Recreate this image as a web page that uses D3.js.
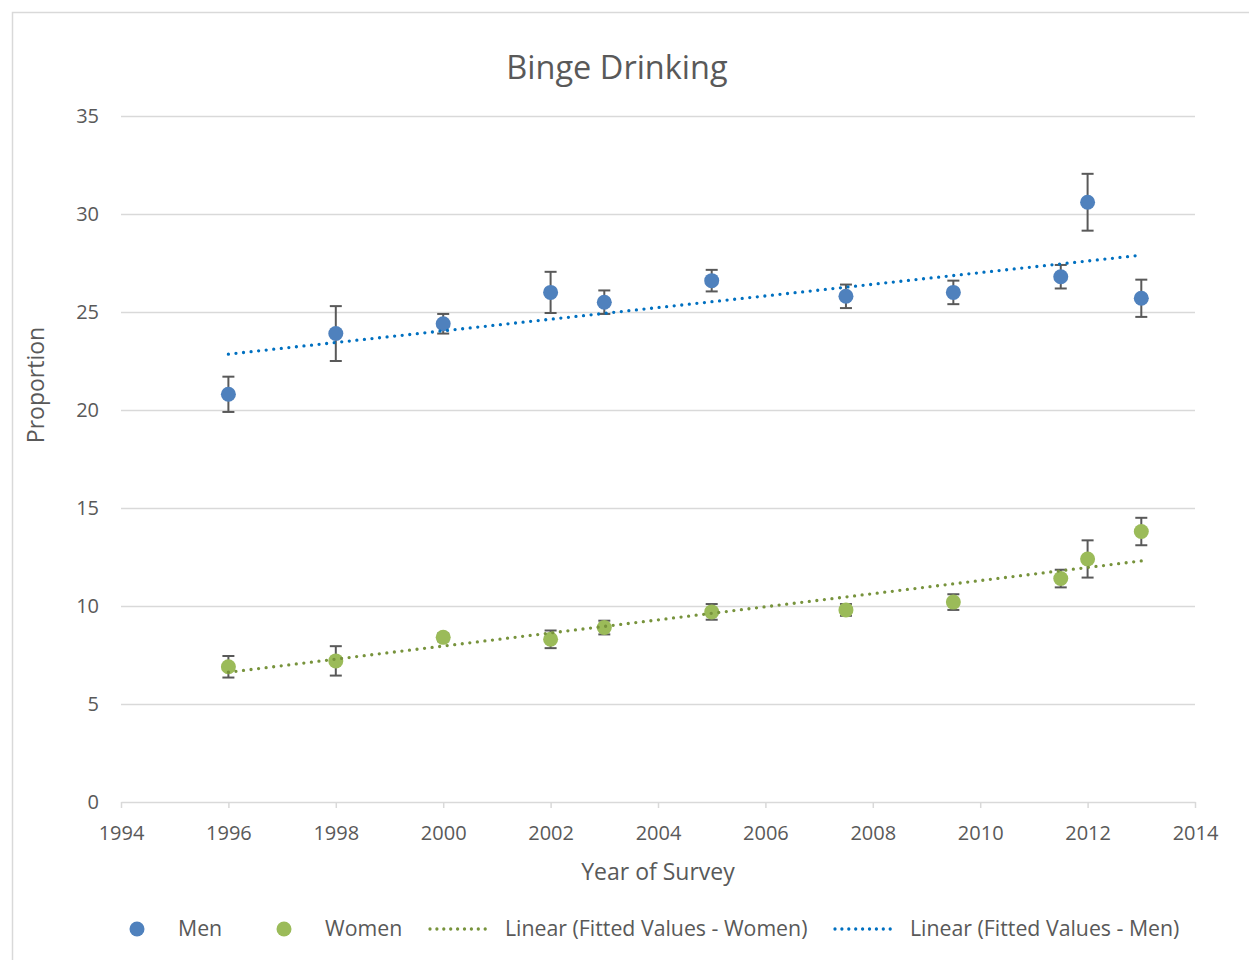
<!DOCTYPE html>
<html>
<head>
<meta charset="utf-8">
<script src="https://cdn.jsdelivr.net/npm/d3@7"></script>
<style>
  html, body { margin: 0; padding: 0; background: #ffffff; }
  svg { display: block; font-family: "Open Sans", "DejaVu Sans", sans-serif; }
</style>
</head>
<body>
<svg id="chart" width="1249" height="960"></svg>
<script>
// Survey years (2007.5 etc. are mid-year survey points)
const years = [1996, 1998, 2000, 2002, 2003, 2005, 2007.5, 2009.5, 2011.5, 2012, 2013];

// Binge drinking proportion (%) with error bar half-widths
const menValues   = [20.8, 23.9, 24.4, 26.0, 25.5, 26.6, 25.8, 26.0, 26.8, 30.6, 25.7];
const menErrors   = [0.9, 1.4, 0.5, 1.05, 0.6, 0.55, 0.6, 0.6, 0.6, 1.45, 0.95];
const womenValues = [6.9, 7.2, 8.4, 8.3, 8.9, 9.7, 9.8, 10.2, 11.4, 12.4, 13.8];
const womenErrors = [0.55, 0.75, 0.2, 0.45, 0.35, 0.4, 0.3, 0.4, 0.45, 0.95, 0.7];

// Linear trend lines of the fitted values (start and end of each line)
const fitYears      = [1996, 2013];
const menFitted     = [22.85, 27.9];
const womenFitted   = [6.62, 12.3];

// Axis ticks
const xTicks = [1994, 1996, 1998, 2000, 2002, 2004, 2006, 2008, 2010, 2012, 2014];
const yTicks = [0, 5, 10, 15, 20, 25, 30, 35];

const legendLabels = ["Men", "Women", "Linear (Fitted Values - Women)", "Linear (Fitted Values - Men)"];

const colors = {
  men: "#4f81bd",
  women: "#9bbb59",
  menLine: "#0070c0",
  womenLine: "#77933c",
  err: "#595959",
  grid: "#d9d9d9",
  text: "#595959"
};

const svg = d3.select("#chart");

// chart frame
svg.append("rect")
  .attr("x", 12.5).attr("y", 12.5)
  .attr("width", 1260).attr("height", 980)
  .attr("fill", "#ffffff")
  .attr("stroke", "#d9d9d9")
  .attr("stroke-width", 1.5);

const plot = { left: 121, right: 1195, top: 116, bottom: 802 };

const x = d3.scaleLinear().domain([1994, 2014]).range([plot.left, plot.right]);
const y = d3.scaleLinear().domain([0, 35]).range([plot.bottom, plot.top]);

// horizontal gridlines
const yAxis = d3.axisLeft(y)
  .tickValues(yTicks)
  .tickSize(-(plot.right - plot.left))
  .tickPadding(22);

const gy = svg.append("g")
  .attr("transform", `translate(${plot.left},0)`)
  .call(yAxis);
gy.select(".domain").remove();
gy.selectAll(".tick line")
  .attr("stroke-width", 1.5)
  .attr("stroke", d => d === 0 ? "none" : colors.grid);
gy.selectAll(".tick text")
  .attr("fill", colors.text)
  .style("font-size", "20px")
  .attr("font-family", "Open Sans");

// bottom axis with outward ticks
const xAxis = d3.axisBottom(x)
  .tickValues(xTicks)
  .tickFormat(d3.format("d"))
  .tickSize(6)
  .tickSizeOuter(0)
  .tickPadding(18);

const gx = svg.append("g")
  .attr("transform", `translate(0,${plot.bottom})`)
  .call(xAxis);
gx.select(".domain").attr("stroke", colors.grid).attr("stroke-width", 1.5);
gx.selectAll(".tick line").attr("stroke", colors.grid).attr("stroke-width", 1.5);
gx.selectAll(".tick text")
  .attr("fill", colors.text)
  .style("font-size", "20px")
  .attr("font-family", "Open Sans");

// title and axis titles
svg.append("text")
  .attr("x", 617).attr("y", 79)
  .attr("text-anchor", "middle")
  .attr("fill", colors.text)
  .style("font-size", "32.5px")
  .text("Binge Drinking");

svg.append("text")
  .attr("x", 658).attr("y", 880)
  .attr("text-anchor", "middle")
  .attr("fill", colors.text)
  .style("font-size", "23px")
  .text("Year of Survey");

svg.append("text")
  .attr("transform", "translate(44,385) rotate(-90)")
  .attr("text-anchor", "middle")
  .attr("fill", colors.text)
  .style("font-size", "23px")
  .text("Proportion");

// fitted trend lines (round dotted)
const line = d3.line().x(d => x(d[0])).y(d => y(d[1]));
function trend(vals, color) {
  svg.append("path")
    .datum(fitYears.map((yr, i) => [yr, vals[i]]))
    .attr("d", line)
    .attr("fill", "none")
    .attr("stroke", color)
    .attr("stroke-width", 3.3)
    .attr("stroke-linecap", "round")
    .attr("stroke-dasharray", "0 7.6");
}

// error bars + markers for one series
function series(vals, errs, color) {
  const g = svg.append("g");
  const data = years.map((yr, i) => ({ yr, v: vals[i], e: errs[i] }));
  const eb = g.selectAll("g.eb").data(data).join("g").attr("class", "eb")
    .attr("stroke", colors.err).attr("stroke-width", 2);
  eb.append("line")
    .attr("x1", d => x(d.yr)).attr("x2", d => x(d.yr))
    .attr("y1", d => y(d.v + d.e)).attr("y2", d => y(d.v - d.e));
  eb.append("line")
    .attr("x1", d => x(d.yr) - 6).attr("x2", d => x(d.yr) + 6)
    .attr("y1", d => y(d.v + d.e)).attr("y2", d => y(d.v + d.e));
  eb.append("line")
    .attr("x1", d => x(d.yr) - 6).attr("x2", d => x(d.yr) + 6)
    .attr("y1", d => y(d.v - d.e)).attr("y2", d => y(d.v - d.e));
  g.selectAll("circle").data(data).join("circle")
    .attr("cx", d => x(d.yr)).attr("cy", d => y(d.v))
    .attr("r", 7.5)
    .attr("fill", color);
}

series(menValues, menErrors, colors.men);
series(womenValues, womenErrors, colors.women);
trend(menFitted, colors.menLine);
trend(womenFitted, colors.womenLine);

// legend
const ly = 929;
const legend = svg.append("g").style("font-size", "21.3px").attr("fill", colors.text);
legend.append("circle").attr("cx", 137).attr("cy", ly).attr("r", 7.5).attr("fill", colors.men);
legend.append("text").attr("x", 178).attr("y", ly).attr("dy", "0.35em").text(legendLabels[0]);
legend.append("circle").attr("cx", 284).attr("cy", ly).attr("r", 7.5).attr("fill", colors.women);
legend.append("text").attr("x", 325).attr("y", ly).attr("dy", "0.35em").text(legendLabels[1]);
legend.append("line").attr("x1", 430).attr("x2", 492).attr("y1", ly).attr("y2", ly)
  .attr("stroke", colors.womenLine).attr("stroke-width", 3.3)
  .attr("stroke-linecap", "round").attr("stroke-dasharray", "0 6.9");
legend.append("text").attr("x", 505).attr("y", ly).attr("dy", "0.35em").text(legendLabels[2]);
legend.append("line").attr("x1", 835).attr("x2", 897).attr("y1", ly).attr("y2", ly)
  .attr("stroke", colors.menLine).attr("stroke-width", 3.3)
  .attr("stroke-linecap", "round").attr("stroke-dasharray", "0 6.9");
legend.append("text").attr("x", 910).attr("y", ly).attr("dy", "0.35em").text(legendLabels[3]);
</script>
</body>
</html>
